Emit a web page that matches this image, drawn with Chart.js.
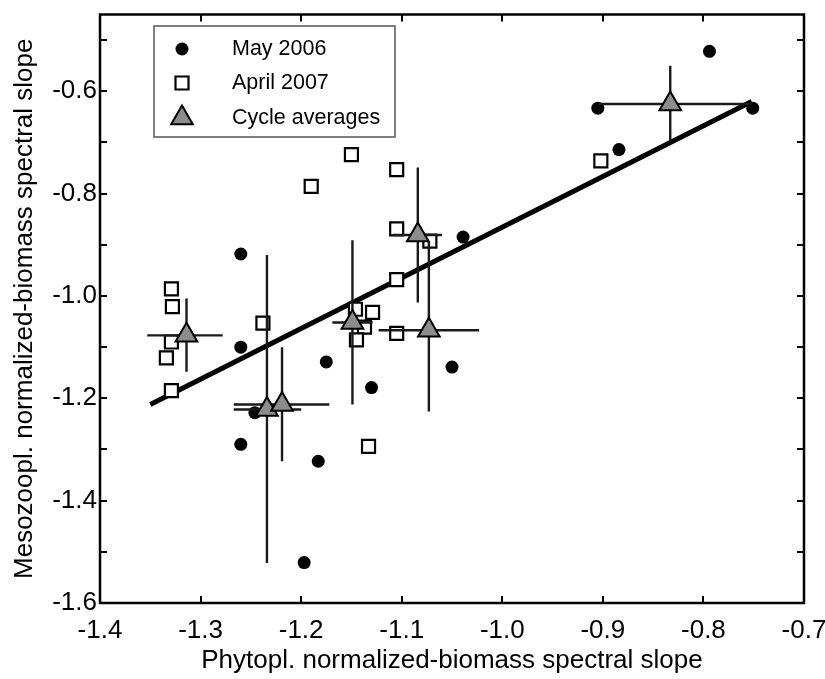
<!DOCTYPE html>
<html>
<head>
<meta charset="utf-8">
<script src="https://cdn.jsdelivr.net/npm/chart.js@4/dist/chart.umd.min.js"></script>
<style>
html,body{margin:0;padding:0;background:#fff;}
#wrap{width:825px;height:679px;}
</style>
</head>
<body>
<div id="wrap"><canvas id="c" width="825" height="679"></canvas></div>
<script>
// ---- data ----
const mayX = [-0.794, -0.905, -0.751, -0.884, -1.039, -1.050, -1.130, -1.175, -1.260, -1.260, -1.246, -1.260, -1.183, -1.197];
const mayY = [-0.522, -0.633, -0.633, -0.714, -0.885, -1.139, -1.179, -1.129, -0.918, -1.100, -1.228, -1.290, -1.323, -1.521];

const aprX = [-1.329, -1.328, -1.329, -1.334, -1.329, -1.238, -1.146, -1.129, -1.137, -1.145, -1.133, -1.150, -1.105, -1.105, -1.072, -1.105, -1.105, -1.190, -0.902];
const aprY = [-0.986, -1.021, -1.090, -1.121, -1.185, -1.053, -1.026, -1.032, -1.061, -1.086, -1.294, -0.724, -0.753, -0.869, -0.893, -0.968, -1.073, -0.786, -0.736];

const avgX   = [-1.314, -1.234, -1.219, -1.149, -1.084, -1.073, -0.833];
const avgY   = [-1.077, -1.222, -1.212, -1.052, -0.881, -1.067, -0.625];
const avgXLo = [-1.353, -1.267, -1.267, -1.169, -1.109, -1.123, -0.905];
const avgXHi = [-1.278, -1.200, -1.172, -1.129, -1.060, -1.023, -0.751];
const avgYLo = [-1.148, -1.522, -1.323, -1.212, -1.013, -1.226, -0.697];
const avgYHi = [-1.005, -0.920, -1.100, -0.891, -0.749, -0.893, -0.550];

const regX = [-1.350, -0.752];
const regY = [-1.212, -0.620];

const legendLabels = ['May 2006', 'April 2007', 'Cycle averages'];
const xTitle = 'Phytopl. normalized-biomass spectral slope';
const yTitle = 'Mesozoopl. normalized-biomass spectral slope';

const FONT = "'Liberation Sans', Arial, Helvetica, sans-serif";
const pts = (xs, ys) => xs.map((x, i) => ({x: x, y: ys[i]}));

// error bars drawn just before the triangles, through the chart scales
const errorBars = {
  id: 'errorBars',
  beforeDatasetDraw(chart, args) {
    if (args.index !== 0) return;
    const {ctx, scales: {x, y}} = chart;
    ctx.save();
    ctx.strokeStyle = '#1a1a1a';
    ctx.lineWidth = 2.4;
    for (let i = 0; i < avgX.length; i++) {
      const px = x.getPixelForValue(avgX[i]);
      const py = y.getPixelForValue(avgY[i]);
      ctx.beginPath();
      ctx.moveTo(x.getPixelForValue(avgXLo[i]), py);
      ctx.lineTo(x.getPixelForValue(avgXHi[i]), py);
      ctx.moveTo(px, y.getPixelForValue(avgYLo[i]));
      ctx.lineTo(px, y.getPixelForValue(avgYHi[i]));
      ctx.stroke();
    }
    ctx.restore();
  }
};

// frame with inward ticks on all four sides
const frame = {
  id: 'frame',
  afterDatasetsDraw(chart) {
    const {ctx, chartArea: a, scales: {x, y}} = chart;
    ctx.save();
    ctx.strokeStyle = '#000';
    ctx.lineWidth = 2;
    const L = 7;
    ctx.beginPath();
    x.ticks.forEach(t => {
      const p = Math.round(x.getPixelForValue(t.value));
      ctx.moveTo(p, a.bottom); ctx.lineTo(p, a.bottom - L);
      ctx.moveTo(p, a.top); ctx.lineTo(p, a.top + L);
    });
    y.ticks.forEach(t => {
      const p = Math.round(y.getPixelForValue(t.value));
      ctx.moveTo(a.left, p); ctx.lineTo(a.left + L, p);
      ctx.moveTo(a.right, p); ctx.lineTo(a.right - L, p);
    });
    ctx.stroke();
    ctx.lineWidth = 2.5;
    ctx.strokeRect(a.left, a.top, a.right - a.left, a.bottom - a.top);
    ctx.restore();
  }
};

// legend box inside the plot
const innerLegend = {
  id: 'innerLegend',
  afterDraw(chart) {
    const {ctx} = chart;
    const bx = 154, by = 26, bw = 241, bh = 111;
    ctx.save();
    ctx.fillStyle = '#fff';
    ctx.fillRect(bx, by, bw, bh);
    ctx.strokeStyle = '#555';
    ctx.lineWidth = 1.5;
    ctx.strokeRect(bx, by, bw, bh);
    const mx = 182, rows = [49, 83, 118];
    const ds = chart.data.datasets;
    const styles = [ds[2], ds[1], ds[0]];
    styles.forEach((d, i) => {
      ctx.fillStyle = d.backgroundColor;
      ctx.strokeStyle = d.borderColor;
      ctx.lineWidth = d.borderWidth;
      Chart.helpers.drawPoint(ctx, {
        pointStyle: d.pointStyle, radius: d.pointRadius, borderWidth: d.borderWidth, rotation: 0
      }, mx, rows[i]);
    });
    ctx.fillStyle = '#000';
    ctx.font = '21.5px ' + FONT;
    ctx.textBaseline = 'middle';
    ctx.textAlign = 'left';
    legendLabels.forEach((t, i) => ctx.fillText(t, 232, rows[i]));
    ctx.restore();
  }
};

new Chart(document.getElementById('c'), {
  type: 'scatter',
  data: {
    datasets: [
      {
        label: legendLabels[2], data: pts(avgX, avgY), order: 0,
        pointStyle: 'triangle', pointRadius: 12.5, borderWidth: 2,
        backgroundColor: '#8c8c8c', borderColor: '#000'
      },
      {
        label: legendLabels[1], data: pts(aprX, aprY), order: 1,
        pointStyle: 'rect', pointRadius: 9.2, borderWidth: 2.2,
        backgroundColor: '#fff', borderColor: '#000'
      },
      {
        label: legendLabels[0], data: pts(mayX, mayY), order: 2,
        pointStyle: 'circle', pointRadius: 6.5, borderWidth: 0,
        backgroundColor: '#000', borderColor: '#000'
      },
      {
        type: 'line', label: 'fit', data: pts(regX, regY), order: 3,
        borderColor: '#000', borderWidth: 5, pointRadius: 0, fill: false,
        borderCapStyle: 'butt'
      }
    ]
  },
  options: {
    responsive: false,
    animation: false,
    events: [],
    layout: {padding: {left: 0, right: 21, top: 10, bottom: 0}},
    plugins: {legend: {display: false}, tooltip: {enabled: false}},
    scales: {
      x: {
        type: 'linear', min: -1.4, max: -0.7,
        grid: {display: false, drawTicks: false},
        border: {display: false},
        ticks: {
          stepSize: 0.1, includeBounds: false, padding: 12, color: '#000',
          font: {family: FONT, size: 26},
          callback: v => Number(v).toFixed(1)
        },
        title: {display: true, text: xTitle, color: '#000', font: {family: FONT, size: 26}, padding: {top: 0, bottom: 3}},
        afterFit: s => { s.height = 76; s.paddingLeft = 0; s.paddingRight = 0; }
      },
      y: {
        type: 'linear', min: -1.6, max: -0.45,
        grid: {display: false, drawTicks: false},
        border: {display: false},
        ticks: {
          stepSize: 0.1, includeBounds: false, padding: 3, color: '#000',
          font: {family: FONT, size: 26},
          callback: v => (Math.round(v * 10) % 2 === 0 ? Number(v).toFixed(1) : '')
        },
        title: {display: true, text: yTitle, color: '#000', font: {family: FONT, size: 26}, padding: {top: 9, bottom: 0}},
        afterFit: s => { s.width = 100; s.paddingTop = 0; s.paddingBottom = 0; }
      }
    }
  },
  plugins: [errorBars, frame, innerLegend]
});
</script>
</body>
</html>
